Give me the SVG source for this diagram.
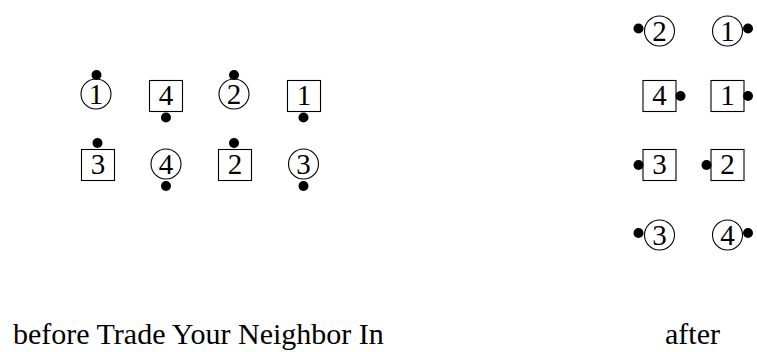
<svg xmlns="http://www.w3.org/2000/svg" width="757" height="352" viewBox="0 0 757 352">
<style>
.c{fill:none;stroke:#000;stroke-width:1.1}
.b{fill:none;stroke:#000;stroke-width:1.1}
.d{fill:#000}
</style>
<rect width="757" height="352" fill="#fff"/>
<g text-anchor="middle" fill="#000">
<g id="before">
<g id="b-c1"><circle class="c" cx="96" cy="94" r="15"/><text x="96" y="103.5" font-family="'Liberation Serif', serif" font-size="29">1</text><circle class="d" cx="96.5" cy="75" r="5"/></g>
<g id="b-s4"><rect class="b" x="149.5" y="80.5" width="33" height="31"/><text x="166" y="104.5" font-family="'Liberation Serif', serif" font-size="29">4</text><circle class="d" cx="166" cy="117.5" r="5"/></g>
<g id="b-c2"><circle class="c" cx="234" cy="94" r="15"/><text x="234" y="103.5" font-family="'Liberation Serif', serif" font-size="29">2</text><circle class="d" cx="234" cy="75" r="5"/></g>
<g id="b-s1"><rect class="b" x="287.5" y="80.5" width="33" height="31"/><text x="304" y="104.5" font-family="'Liberation Serif', serif" font-size="29">1</text><circle class="d" cx="303.5" cy="117.5" r="5"/></g>
<g id="b-s3"><rect class="b" x="81.5" y="149.5" width="33" height="31"/><text x="98" y="173.5" font-family="'Liberation Serif', serif" font-size="29">3</text><circle class="d" cx="97.5" cy="143" r="5"/></g>
<g id="b-c4"><circle class="c" cx="166" cy="164" r="15"/><text x="166" y="173.5" font-family="'Liberation Serif', serif" font-size="29">4</text><circle class="d" cx="166" cy="186" r="5"/></g>
<g id="b-s2"><rect class="b" x="218.5" y="149.5" width="33" height="31"/><text x="235" y="173.5" font-family="'Liberation Serif', serif" font-size="29">2</text><circle class="d" cx="234" cy="143" r="5"/></g>
<g id="b-c3"><circle class="c" cx="303.5" cy="164" r="15"/><text x="303.5" y="173.5" font-family="'Liberation Serif', serif" font-size="29">3</text><circle class="d" cx="303.5" cy="186" r="5"/></g>
</g>
<g id="after">
<g id="a-c2"><circle class="c" cx="659.5" cy="31" r="15"/><text x="659.5" y="40.5" font-family="'Liberation Serif', serif" font-size="29">2</text><circle class="d" cx="638.5" cy="28.5" r="5"/></g>
<g id="a-c1"><circle class="c" cx="727.5" cy="31" r="15"/><text x="727.5" y="40.5" font-family="'Liberation Serif', serif" font-size="29">1</text><circle class="d" cx="748" cy="28.5" r="5"/></g>
<g id="a-s4"><rect class="b" x="643" y="80.5" width="33" height="31"/><text x="659.5" y="104.5" font-family="'Liberation Serif', serif" font-size="29">4</text><circle class="d" cx="680.5" cy="96" r="5"/></g>
<g id="a-s1"><rect class="b" x="711" y="80.5" width="33" height="31"/><text x="727.5" y="104.5" font-family="'Liberation Serif', serif" font-size="29">1</text><circle class="d" cx="748" cy="96" r="5"/></g>
<g id="a-s3"><rect class="b" x="643" y="149.5" width="33" height="31"/><text x="659.5" y="173.5" font-family="'Liberation Serif', serif" font-size="29">3</text><circle class="d" cx="638.5" cy="165" r="5"/></g>
<g id="a-s2"><rect class="b" x="711" y="149.5" width="33" height="31"/><text x="727.5" y="173.5" font-family="'Liberation Serif', serif" font-size="29">2</text><circle class="d" cx="706.5" cy="165" r="5"/></g>
<g id="a-c3"><circle class="c" cx="659.5" cy="235" r="15"/><text x="659.5" y="244.5" font-family="'Liberation Serif', serif" font-size="29">3</text><circle class="d" cx="638.5" cy="233" r="5"/></g>
<g id="a-c4"><circle class="c" cx="727.5" cy="235" r="15"/><text x="727.5" y="244.5" font-family="'Liberation Serif', serif" font-size="29">4</text><circle class="d" cx="748" cy="233" r="5"/></g>
</g>
</g>
<g id="labels" fill="#000">
<text x="13" y="344" font-family="'Liberation Serif', serif" font-size="30">before Trade Your Neighbor In</text>
<text x="665" y="344" font-family="'Liberation Serif', serif" font-size="30">after</text>
</g>
</svg>
